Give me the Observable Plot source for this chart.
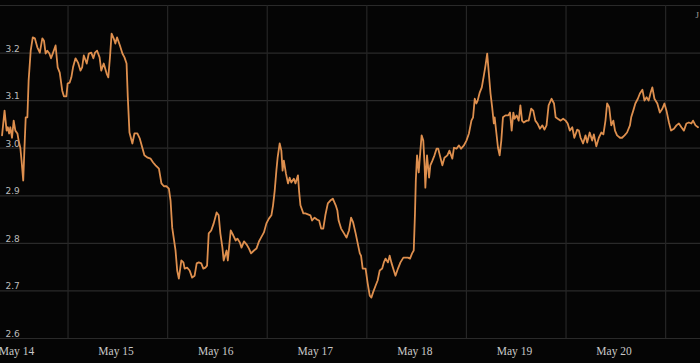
<!DOCTYPE html>
<html>
<head>
<meta charset="utf-8">
<script src="https://cdn.jsdelivr.net/npm/d3@7"></script>
<script src="https://cdn.jsdelivr.net/npm/@observablehq/plot@0.6"></script>
<style>
  html, body { margin: 0; padding: 0; background: #050505; overflow: hidden; }
  svg { display: block; }
</style>
</head>
<body>
<div id="chart"></div>
<script>
// Day labels on the time axis (each at 00:00 UTC of that day)
const dayLabels = ["May 14", "May 15", "May 16", "May 17", "May 18", "May 19", "May 20"];
// Y tick labels and grid levels
const yTickLabels = [2.6, 2.7, 2.8, 2.9, 3.0, 3.1, 3.2];
const yGridLevels = [2.6, 2.7, 2.8, 2.9, 3.0, 3.1, 3.2, 3.3];
// Series: [hours since May 14 00:00 UTC, value]
const ratePoints = [
  [-3.6,3.027],[-3.0,3.079],[-2.5,3.037],[-2.2,3.044],[-1.9,3.031],[-1.6,3.044],[-1.2,3.022],[-0.8,3.058],
  [-0.4,3.037],[0.1,3.031],[0.4,3.016],[0.8,3.001],[1.1,2.974],[1.5,2.932],[1.8,3.001],[2.1,3.065],
  [2.5,3.065],[2.8,3.142],[3.3,3.205],[3.8,3.233],[4.3,3.231],[4.9,3.212],[5.5,3.201],[6.1,3.231],
  [6.5,3.226],[6.9,3.199],[7.3,3.205],[7.8,3.199],[8.2,3.189],[8.7,3.201],[9.3,3.216],[9.8,3.170],
  [10.3,3.159],[10.9,3.121],[11.3,3.109],[11.9,3.109],[12.2,3.136],[12.7,3.138],[13.1,3.149],[13.5,3.170],
  [14.1,3.189],[14.7,3.180],[15.3,3.163],[15.7,3.170],[16.1,3.195],[16.8,3.178],[17.3,3.199],[17.9,3.201],
  [18.4,3.189],[18.8,3.201],[19.3,3.205],[19.9,3.191],[20.3,3.163],[20.9,3.178],[21.6,3.157],[22.0,3.149],
  [22.4,3.191],[22.8,3.241],[23.3,3.231],[23.7,3.220],[24.1,3.233],
  [24.8,3.216],[25.4,3.199],[25.9,3.191],[26.4,3.178],[26.7,3.107],[27.1,3.033],[27.8,3.010],[28.3,3.031],
  [29.0,3.031],[29.6,3.020],[30.2,3.001],[30.7,2.985],[31.5,2.980],[32.2,2.978],[32.8,2.970],[33.4,2.964],
  [34.2,2.957],[34.8,2.926],[35.4,2.920],[36.0,2.920],[36.6,2.915],[37.0,2.890],[37.4,2.833],[38.2,2.785],
  [38.6,2.743],[39.0,2.726],[39.6,2.764],[40.1,2.760],[40.4,2.747],[41.0,2.749],[41.6,2.743],[42.2,2.728],
  [42.8,2.732],[43.3,2.758],[43.8,2.760],[44.4,2.758],[44.9,2.747],[45.4,2.749],[45.8,2.753],[46.2,2.821],
  [46.8,2.827],[47.4,2.842],[48.1,2.865],[48.6,2.859],[49.0,2.821],[49.5,2.791],[49.8,2.764],[50.5,2.785],
  [50.8,2.764],[51.5,2.827],
  [52.1,2.817],[52.7,2.806],[53.1,2.810],[53.7,2.802],[54.1,2.791],[54.7,2.804],[55.3,2.798],[55.9,2.789],
  [56.4,2.779],[57.1,2.785],[57.7,2.789],[58.3,2.804],[58.8,2.812],[59.5,2.823],[60.1,2.842],[60.7,2.852],
  [61.3,2.859],[61.7,2.880],[62.1,2.911],[62.5,2.953],[62.8,2.980],[63.3,3.010],[63.7,2.995],[64.0,2.953],
  [64.3,2.974],[64.8,2.947],[65.3,2.926],[65.7,2.938],[66.1,2.928],[66.7,2.936],[67.1,2.926],[67.7,2.943],
  [68.0,2.907],[68.3,2.880],[69.0,2.863],[69.5,2.863],[70.1,2.861],[70.7,2.859],[71.1,2.848],[71.7,2.854],
  [72.3,2.850],[72.8,2.848],[73.3,2.831],[73.8,2.831],[74.3,2.859],[74.9,2.884],[75.5,2.890],[76.1,2.894],
  [76.8,2.880],[77.2,2.869],
  [77.5,2.848],[78.1,2.831],[78.8,2.821],[79.4,2.812],[80.0,2.827],[80.5,2.854],[81.0,2.844],[81.6,2.821],
  [82.1,2.800],[82.6,2.779],[82.9,2.774],[83.3,2.747],[84.0,2.747],[84.5,2.716],[85.0,2.690],[85.4,2.686],
  [85.8,2.697],[86.4,2.711],[86.9,2.722],[87.4,2.743],[88.0,2.747],[88.4,2.760],[88.8,2.768],[89.4,2.760],
  [89.8,2.774],[90.2,2.760],[90.8,2.743],[91.2,2.732],[91.8,2.747],[92.4,2.760],[93.1,2.770],[93.6,2.770],
  [94.2,2.770],[94.7,2.768],[95.2,2.779],[95.6,2.785],[95.9,2.863],[96.1,2.932],[96.4,2.985],[96.8,2.949],
  [97.2,2.995],[97.5,3.027],[97.9,3.016],[98.2,2.968],[98.4,2.917],[98.8,2.985],[99.3,2.938],[99.6,2.964],
  [100.1,2.974],[100.6,2.985],[101.1,2.999],[101.5,2.999],
  [102.1,2.978],[102.5,2.964],[103.0,2.980],[103.7,2.985],[104.2,2.995],[104.9,2.978],[105.3,3.001],[105.9,2.999],
  [106.5,3.006],[107.0,2.999],[107.7,3.006],[108.3,3.016],[108.9,3.031],[109.5,3.058],[109.9,3.065],[110.3,3.104],
  [110.7,3.094],[111.0,3.100],[111.5,3.117],[112.0,3.128],[112.5,3.153],[112.9,3.174],[113.3,3.199],[113.7,3.157],
  [114.1,3.115],[114.5,3.086],[114.9,3.052],[115.1,3.065],[115.5,3.033],[115.9,3.001],[116.3,2.985],[116.7,3.016],
  [117.1,3.065],[117.7,3.069],[118.4,3.069],[118.8,3.075],[119.2,3.037],[119.6,3.075],[119.9,3.062],[120.4,3.069],
  [120.9,3.058],[121.3,3.090],[121.7,3.058],[122.1,3.054],[122.8,3.058],[123.3,3.058],[123.9,3.083],[124.4,3.079],
  [124.9,3.058],[125.4,3.052],[126.0,3.041],[126.6,3.048],[127.1,3.039],[127.6,3.048],[128.1,3.090],[128.8,3.104],
  [129.4,3.094],[129.8,3.065],[130.3,3.062],[131.0,3.058],
  [131.6,3.062],[132.2,3.058],[132.7,3.052],[133.2,3.037],[133.8,3.044],[134.3,3.022],[135.0,3.039],[135.4,3.037],
  [135.8,3.022],[136.4,3.010],[137.0,3.027],[137.4,3.012],[138.0,3.033],[138.6,3.016],[139.0,3.029],[139.6,3.004],
  [140.2,3.022],[140.8,3.033],[141.3,3.029],[141.8,3.058],[142.2,3.094],[142.7,3.086],[143.2,3.048],[143.7,3.058],
  [144.1,3.037],[144.6,3.027],[145.3,3.022],[145.8,3.022],[146.4,3.027],[147.0,3.033],[147.7,3.048],[148.0,3.065],
  [148.5,3.079],[149.0,3.094],[149.6,3.104],[150.1,3.115],[150.7,3.123],[151.2,3.100],[151.7,3.107],[152.2,3.100],
  [152.7,3.117],[153.1,3.128],[153.6,3.104],[154.3,3.094],[154.9,3.075],[155.5,3.083],[156.0,3.094],[156.5,3.079],
  [157.1,3.054],[157.6,3.037],[158.3,3.041],[158.9,3.048],[159.5,3.052],[160.1,3.044],[160.7,3.037],[161.3,3.052],
  [161.9,3.054],[162.5,3.052],[162.9,3.058],[163.5,3.048],[164.1,3.044]
];

const HOUR = 3600e3;
const base = Date.UTC(2024, 4, 14);
const data = ratePoints.map(([h, v]) => ({ t: new Date(base + h * HOUR), v }));
const dayTicks = dayLabels.map((_, i) => new Date(base + i * 24 * HOUR));
const gridTimes = dayTicks.map(d => new Date(+d + 12.3 * HOUR));

const chart = Plot.plot({
  width: 700,
  height: 363,
  marginTop: 5,
  marginBottom: 25,
  marginLeft: 0,
  marginRight: 0,
  style: { background: "#050505", color: "#c8c8c8", overflow: "hidden" },
  x: { type: "utc", domain: [new Date(base - 3.976 * HOUR), new Date(base + 164.7 * HOUR)], axis: null },
  y: { domain: [2.6, 3.3], axis: null },
  marks: [
    Plot.ruleY(yGridLevels, { stroke: "#2a2a2a", strokeWidth: 1.2 }),
    Plot.ruleX(gridTimes, { stroke: "#262626", strokeWidth: 1.2 }),
    Plot.text(yTickLabels, {
      y: d => d, frameAnchor: "left", text: d => d.toFixed(1),
      textAnchor: "start", lineAnchor: "bottom", dx: 5, dy: -1.5,
      fill: "#bdbdbd", fontSize: 9, fontFamily: "DejaVu Sans"
    }),
    Plot.line(data, { x: "t", y: "v", stroke: "#de8f4e", strokeWidth: 1.8, curve: "linear" }),
    Plot.text(dayTicks, {
      x: d => d, text: (d, i) => dayLabels[i], frameAnchor: "bottom",
      lineAnchor: "middle", dy: 13, dx: -0.5,
      fill: "#c8c8c8", fontSize: 11.5, fontFamily: "Liberation Serif"
    }),
    Plot.text(["J"], {
      frameAnchor: "top-right", text: d => d, textAnchor: "start", lineAnchor: "middle",
      dx: -5, dy: 10, fill: "#9a9a9a", fontSize: 9, fontFamily: "Liberation Serif"
    })
  ]
});
document.getElementById("chart").appendChild(chart);
</script>
</body>
</html>
